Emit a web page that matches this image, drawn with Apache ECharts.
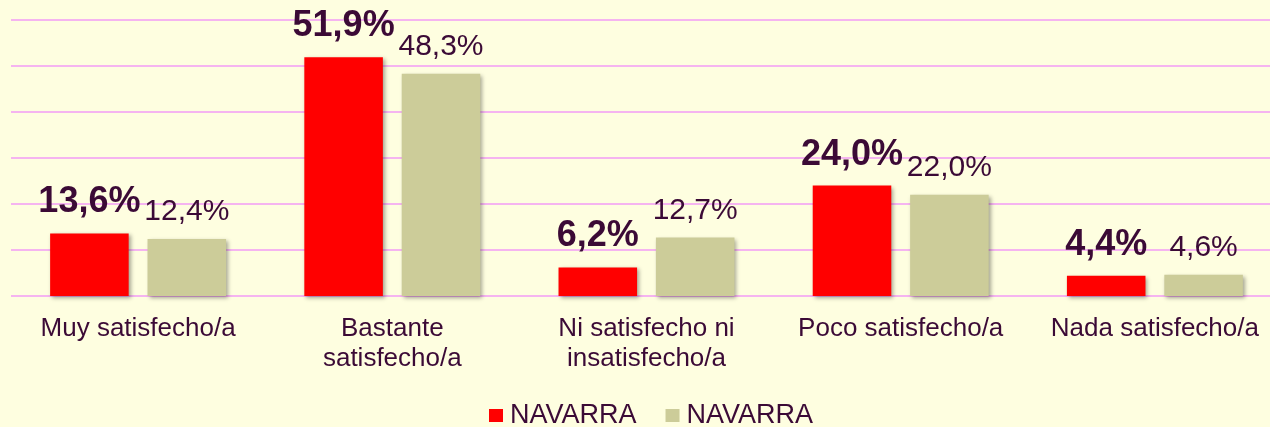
<!DOCTYPE html>
<html>
<head>
<meta charset="utf-8">
<script src="https://cdn.jsdelivr.net/npm/echarts@6/dist/echarts.min.js"></script>
<style>
  html, body { margin: 0; padding: 0; background: #FEFEE0; }
  #chart { width: 1270px; height: 427px; }
</style>
</head>
<body>
<div id="chart"></div>
<script>
// categories and values
const categories = ['Muy satisfecho/a', 'Bastante\nsatisfecho/a', 'Ni satisfecho ni\ninsatisfecho/a', 'Poco satisfecho/a', 'Nada satisfecho/a'];
const seriesA = [13.6, 51.9, 6.2, 24.0, 4.4];
const seriesB = [12.4, 48.3, 12.7, 22.0, 4.6];
const seriesKeys = ['NAVARRA_A', 'NAVARRA_B'];
const legendLabel = 'NAVARRA';
const yTicks = [0, 60, 10]; // min, max, interval

const textColor = '#3B0A36';
const fontFamily = '"Liberation Sans", Arial, sans-serif';

const fmt = v => v.toFixed(1).replace('.', ',') + '%';

const barShadow = {
  shadowColor: 'rgba(0,0,0,0.35)',
  shadowBlur: 4,
  shadowOffsetX: 2,
  shadowOffsetY: 2
};

const chart = echarts.init(document.getElementById('chart'));
chart.setOption({
  backgroundColor: '#FEFEE0',
  animation: false,
  textStyle: { fontFamily: fontFamily, color: textColor },
  // plot runs past the right edge of the picture, like the original crop
  grid: { left: 11, top: 20, width: 1271, bottom: 131, containLabel: false, outerBoundsMode: 'none' },
  legend: {
    left: 484,
    top: 397,
    itemWidth: 14,
    itemHeight: 13,
    itemGap: 29,
    icon: 'rect',
    formatter: () => legendLabel,
    textStyle: { fontSize: 27, color: textColor, fontFamily: fontFamily, padding: [0, 0, 0, 2] }
  },
  xAxis: {
    type: 'category',
    data: categories,
    axisLine: { show: false },
    axisTick: { show: false },
    axisLabel: {
      margin: 18,
      fontSize: 26,
      lineHeight: 30,
      color: textColor,
      fontFamily: fontFamily,
      interval: 0
    }
  },
  yAxis: {
    type: 'value',
    min: yTicks[0],
    max: yTicks[1],
    interval: yTicks[2],
    axisLabel: { show: false },
    axisLine: { show: false },
    axisTick: { show: false },
    splitLine: { lineStyle: { color: '#F5B4F0', width: 2 } }
  },
  series: [
    {
      name: seriesKeys[0],
      type: 'bar',
      data: seriesA,
      barWidth: '30.9%',
      barGap: '24%',
      itemStyle: Object.assign({ color: '#FF0000' }, barShadow),
      label: {
        show: true,
        position: 'top',
        distance: 13,
        formatter: p => fmt(p.value),
        fontSize: 36,
        fontWeight: 'bold',
        color: textColor,
        fontFamily: fontFamily
      }
    },
    {
      name: seriesKeys[1],
      type: 'bar',
      data: seriesB,
      barWidth: '30.9%',
      itemStyle: Object.assign({ color: '#CCCC99' }, barShadow),
      label: {
        show: true,
        position: 'top',
        distance: 12,
        formatter: p => fmt(p.value),
        fontSize: 30,
        color: textColor,
        fontFamily: fontFamily
      }
    }
  ]
});
</script>
</body>
</html>
